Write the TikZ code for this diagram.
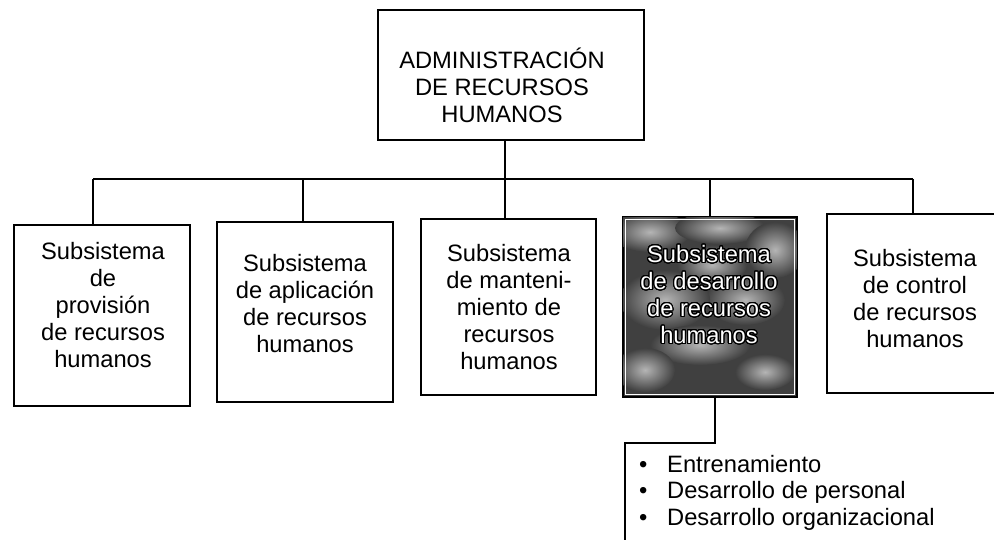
\documentclass[tikz,border=0pt]{standalone}
\usepackage{fontspec}
\setmainfont{Liberation Sans}
\usepackage{contour}
\contourlength{1.1pt}
\contournumber{32}
\begin{document}
\begin{tikzpicture}[x=1pt,y=-1pt,
  box/.style={draw, line width=1.4pt, inner sep=0pt},
  lbl/.style={font=\fontsize{23.7}{27}\selectfont, align=center, inner sep=0pt},
  item/.style={font=\fontsize{23.7}{27}\selectfont, anchor=base west, inner sep=0pt},
  conn/.style={line width=1.4pt},
  blob/.style={inner color=gray!58, outer color=black!75}]
\useasboundingbox (0,0) rectangle (994,540);
\clip (0,0) rectangle (994,540);
\fill[white] (0,0) rectangle (994,540);

% boxes
\node[box, minimum width=266pt, minimum height=130pt] (top) at (511,75) {};
\node[box, minimum width=176pt, minimum height=181pt] (b1) at (102,315.5) {};
\node[box, minimum width=176pt, minimum height=180pt] (b2) at (305,312) {};
\node[box, minimum width=175pt, minimum height=176pt] (b3) at (508.5,307) {};
\node[box, fill=black!75, minimum width=174pt, minimum height=180pt] (b4) at (710,307) {};
\node[box, minimum width=173pt, minimum height=179pt] (b5) at (913.5,303.5) {};

% mottled texture of the highlighted box
\begin{scope}
  \clip (b4.north west) rectangle (b4.south east);
  \shade[blob] (650,232) ellipse (40 and 20);
  \shade[blob] (720,228) ellipse (45 and 16);
  \shade[blob] (775,250) ellipse (30 and 28);
  \shade[blob] (745,300) ellipse (40 and 25);
  \shade[blob] (665,300) ellipse (45 and 30);
  \shade[blob] (700,345) ellipse (50 and 20);
  \shade[blob] (645,370) ellipse (30 and 22);
  \shade[blob] (765,372) ellipse (30 and 18);
  \shade[blob] (712,265) ellipse (35 and 20);
\end{scope}
\draw[line width=1.4pt] (b4.north west) rectangle (b4.south east);
\draw[white, line width=0.8pt] ([shift={(3pt,-3pt)}]b4.north west) rectangle ([shift={(-3pt,3pt)}]b4.south east);

% texts
\node[lbl] (t0) at (502,85.5) {ADMINISTRACIÓN\\DE RECURSOS\\HUMANOS};
\node[lbl] (t1) at (103,305.5) {Subsistema\\de\\provisión\\de recursos\\humanos};
\node[lbl] (t2) at (305,304) {Subsistema\\de aplicación\\de recursos\\humanos};
\node[lbl] (t3) at (509,307.5) {Subsistema\\de manteni-\\miento de\\recursos\\humanos};
\node[lbl, text=white] (t4) at (709,295) {\contour{black}{Subsistema}\\\contour{black}{de desarrollo}\\\contour{black}{de recursos}\\\contour{black}{humanos}};
\node[lbl] (t5) at (915,298.5) {Subsistema\\de control\\de recursos\\humanos};

% connectors
\coordinate (c1) at (93,179);
\coordinate (c2) at (303,179);
\coordinate (c3) at (505,179);
\coordinate (c4) at (710,179);
\coordinate (c5) at (913,179);
\draw[conn] (top.south -| c3) -- (c3);
\draw[conn] (c1) -- (c5);
\foreach \i in {1,...,5} { \draw[conn] (c\i) -- (c\i |- b\i.north); }

\coordinate (d1) at (715,443);
\coordinate (d2) at (625,443);
\coordinate (d3) at (625,545);
\draw[conn] (b4.south -| d1) -- (d1) -- (d2) -- (d3);

% list
\node[item] (i1) at (639,472) {\makebox[28pt][l]{•}Entrenamiento};
\node[item] (i2) at (639,498.5) {\makebox[28pt][l]{•}Desarrollo de personal};
\node[item] (i3) at (639,525) {\makebox[28pt][l]{•}Desarrollo organizacional};
\end{tikzpicture}
\end{document}
